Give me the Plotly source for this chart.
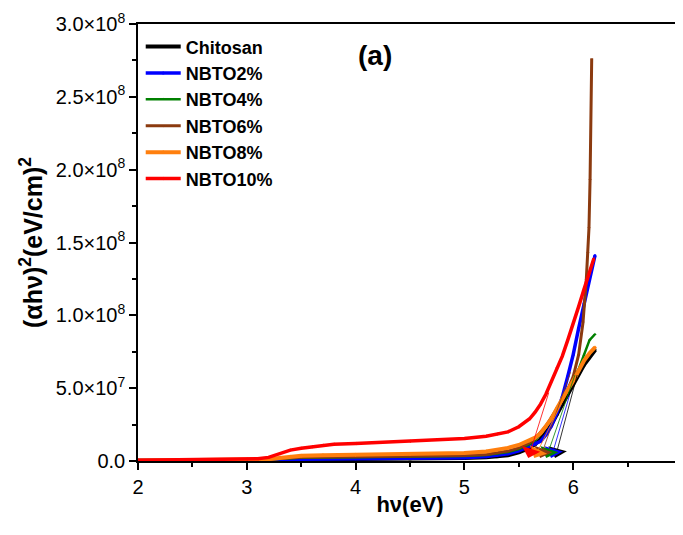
import plotly.graph_objects as go

# ---------------- data (y in units of 1e7) ----------------
series_names = ["Chitosan", "NBTO2%", "NBTO4%", "NBTO6%", "NBTO8%", "NBTO10%"]
series_colors = ["#000000", "#0000ff", "#008000", "#8b3a0f", "#ff7f0e", "#ff0000"]

x_chitosan = [2.0, 2.5, 3.0, 3.2, 3.5, 4.0, 4.5, 5.0, 5.2, 5.3, 5.4, 5.5, 5.6, 5.65, 5.7, 5.75, 5.8, 5.85, 5.9, 5.95, 6.0, 6.05, 6.1, 6.15, 6.2]
y_chitosan = [0.02, 0.02, 0.03, 0.05, 0.1, 0.12, 0.15, 0.2, 0.25, 0.3, 0.4, 0.6, 0.9, 1.15, 1.5, 1.95, 2.5, 3.2, 3.9, 4.6, 5.3, 6.0, 6.6, 7.1, 7.6]

x_nbto2 = [2.0, 2.5, 3.0, 3.2, 3.5, 4.0, 4.5, 5.0, 5.2, 5.3, 5.4, 5.5, 5.6, 5.65, 5.7, 5.75, 5.8, 5.85, 5.9, 5.95, 6.0, 6.05, 6.1, 6.15, 6.2]
y_nbto2 = [0.03, 0.03, 0.04, 0.06, 0.12, 0.15, 0.18, 0.22, 0.3, 0.38, 0.5, 0.7, 1.0, 1.15, 1.35, 1.8, 2.4, 3.3, 4.4, 5.8, 7.3, 9.1, 10.8, 12.5, 14.1]

x_nbto4 = [2.0, 2.5, 3.0, 3.2, 3.5, 4.0, 4.5, 5.0, 5.2, 5.3, 5.4, 5.5, 5.6, 5.65, 5.7, 5.75, 5.8, 5.85, 5.9, 5.95, 6.0, 6.05, 6.1, 6.15, 6.2]
y_nbto4 = [0.03, 0.03, 0.05, 0.1, 0.22, 0.26, 0.3, 0.35, 0.42, 0.5, 0.62, 0.82, 1.15, 1.45, 1.85, 2.35, 2.9, 3.6, 4.3, 5.0, 5.7, 6.3, 7.3, 8.3, 8.7]

x_nbto6 = [2.0, 2.5, 3.0, 3.2, 3.5, 4.0, 4.5, 5.0, 5.2, 5.3, 5.4, 5.5, 5.6, 5.65, 5.7, 5.75, 5.8, 5.85, 5.9, 5.95, 6.0, 6.05, 6.09, 6.12, 6.135, 6.145, 6.155, 6.17]
y_nbto6 = [0.03, 0.03, 0.05, 0.12, 0.25, 0.3, 0.33, 0.38, 0.45, 0.55, 0.68, 0.9, 1.25, 1.55, 1.95, 2.4, 3.0, 3.6, 4.2, 4.9, 5.8, 7.3, 9.5, 12.4, 14.3, 16.0, 19.3, 27.6]

x_nbto8 = [2.0, 2.5, 3.0, 3.2, 3.3, 3.4, 3.5, 3.7, 4.0, 4.5, 5.0, 5.2, 5.3, 5.4, 5.5, 5.6, 5.65, 5.7, 5.75, 5.8, 5.85, 5.9, 5.95, 6.0, 6.05, 6.1, 6.15, 6.2]
y_nbto8 = [0.03, 0.04, 0.06, 0.12, 0.2, 0.3, 0.36, 0.4, 0.43, 0.48, 0.55, 0.65, 0.75, 0.9, 1.1, 1.4, 1.6, 1.9, 2.35, 2.9, 3.6, 4.3, 4.9, 5.5, 6.2, 6.9, 7.4, 7.8]

x_nbto10 = [2.0, 2.5, 3.0, 3.1, 3.2, 3.3, 3.4, 3.5, 3.6, 3.7, 3.8, 4.0, 4.5, 5.0, 5.2, 5.3, 5.4, 5.5, 5.6, 5.65, 5.7, 5.75, 5.8, 5.85, 5.9, 5.95, 6.0, 6.05, 6.1, 6.15, 6.19]
y_nbto10 = [0.05, 0.08, 0.12, 0.15, 0.25, 0.5, 0.75, 0.88, 0.98, 1.08, 1.15, 1.2, 1.35, 1.55, 1.7, 1.85, 2.0, 2.35, 2.9, 3.35, 3.9, 4.6, 5.5, 6.4, 7.2, 8.3, 9.4, 10.6, 11.8, 12.9, 13.9]

# Tauc tangent extrapolations: band-gap intercepts (eV) and upper points on each curve
eg_values = [5.834, 5.797, 5.752, 5.697, 5.642, 5.587]
tangent_top_x = [6.04, 5.97, 6.02, 5.98, 5.93, 5.78]
tangent_top_y = [6.0, 4.6, 6.0, 6.2, 4.5, 4.8]   # 1e7
tangent_tip_y = 0.2                                # 1e7

x_tick_vals = [2, 3, 4, 5, 6, 7]
y_tick_vals = [0, 5e7, 1e8, 1.5e8, 2e8, 2.5e8, 3e8]
y_tick_text = ["0.0", "5.0×10<sup>7</sup>", "1.0×10<sup>8</sup>", "1.5×10<sup>8</sup>",
               "2.0×10<sup>8</sup>", "2.5×10<sup>8</sup>", "3.0×10<sup>8</sup>"]

xs = [x_chitosan, x_nbto2, x_nbto4, x_nbto6, x_nbto8, x_nbto10]
ys = [y_chitosan, y_nbto2, y_nbto4, y_nbto6, y_nbto8, y_nbto10]
symbols = ["square", "circle", "triangle-up", "triangle-down", "diamond", "triangle-left"]
widths = [4, 3.5, 2.5, 3, 4, 3.5]

FONT = "Liberation Sans, Arial, sans-serif"

fig = go.Figure()
for name, col, x, y, sym, w in zip(series_names, series_colors, xs, ys, symbols, widths):
    fig.add_trace(go.Scatter(
        x=x, y=[v * 1e7 for v in y], name="<b>" + name + "</b>", mode="lines+markers",
        line=dict(color=col, width=w), marker=dict(color=col, size=3, symbol=sym),
        legendgroup=name,
    ))

for col, eg, tx, ty in zip(series_colors, eg_values, tangent_top_x, tangent_top_y):
    fig.add_annotation(
        x=eg, y=tangent_tip_y * 1e7, ax=tx, ay=ty * 1e7,
        xref="x", yref="y", axref="x", ayref="y", text="",
        showarrow=True, arrowhead=1, arrowsize=4, arrowwidth=0.8, arrowcolor=col,
    )

fig.add_annotation(text="<b>(a)</b>", x=0.436, y=0.929, xref="paper", yref="paper",
                   xanchor="center", yanchor="middle",
                   showarrow=False, font=dict(size=28, color="black", family=FONT))

axis_common = dict(showgrid=False, zeroline=False, showline=True, linecolor="black",
                   linewidth=1.5, mirror=True, ticks="outside", ticklen=7, tickwidth=1.5,
                   tickcolor="black", tickfont=dict(size=20, color="black", family=FONT),
                   automargin=False, ticklabeloverflow="allow")

fig.update_xaxes(range=[2, 7], tickmode="array", tickvals=x_tick_vals,
                 ticktext=[str(v) for v in x_tick_vals],
                 minor=dict(dtick=0.5, tick0=2, ticks="outside", ticklen=4, tickwidth=1.5, tickcolor="black"),
                 title=dict(text="<b>hν(eV)</b>", font=dict(size=22, color="black", family=FONT), standoff=0),
                 **axis_common)
fig.update_yaxes(range=[0, 3e8], tickmode="array", tickvals=y_tick_vals, ticktext=y_tick_text,
                 minor=dict(dtick=2.5e7, tick0=0, ticks="outside", ticklen=4, tickwidth=1.5, tickcolor="black"),
                 title=dict(text="<b>(αhν)<sup>2</sup>(eV/cm)<sup>2</sup></b>", font=dict(size=25, color="black", family=FONT), standoff=6),
                 **axis_common)

# the page body adds an 8 px offset; figure is sized so the plot area lands at x 138-682, y 24-461
fig.update_layout(
    template="none",
    width=675, height=519,
    margin=dict(l=130, r=1, t=16, b=66, autoexpand=False),
    paper_bgcolor="white", plot_bgcolor="white",
    font=dict(family=FONT, color="black"),
    showlegend=True,
    legend=dict(x=0.005, y=0.99, xanchor="left", yanchor="top", bgcolor="rgba(0,0,0,0)",
                font=dict(size=18, color="black", family=FONT), itemwidth=35, tracegroupgap=0,
                traceorder="normal"),
)

fig.write_html("out.html")
